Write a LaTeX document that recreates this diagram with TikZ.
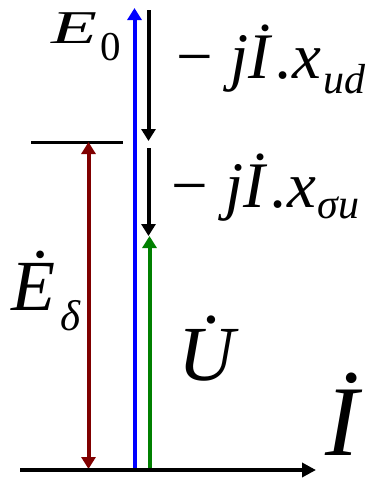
\documentclass[tikz,border=0pt]{standalone}
\usepackage{fontspec}
\setmainfont{Liberation Serif}
\usetikzlibrary{arrows.meta}
\definecolor{vblue}{RGB}{0,0,255}
\definecolor{vgreen}{RGB}{0,128,0}
\definecolor{vred}{RGB}{128,0,0}
\tikzset{
  vec/.style={line width=4pt, -{Triangle[length=12pt,width=14pt]}},
  lbl/.style={anchor=base west, inner sep=0pt, outer sep=0pt},
}
\newcommand{\fs}[1]{\fontsize{#1}{#1}\selectfont}
\begin{document}
\begin{tikzpicture}[x=1pt,y=-1pt]
\useasboundingbox (0,0) rectangle (375,480);
\clip (0,0) rectangle (375,480);
% coordinates
\coordinate (axL) at (20,470);
\coordinate (axR) at (316,470);
\coordinate (bB) at (134.5,470);
\coordinate (bT) at (134.5,8);
\coordinate (k1T) at (148.5,10);
\coordinate (k1B) at (148.5,141);
\coordinate (k2T) at (148.5,148);
\coordinate (k2B) at (148.5,236);
\coordinate (gB) at (149.5,470);
\coordinate (gT) at (149.5,236);
\coordinate (hL) at (31,142.5);
\coordinate (hR) at (123,142.5);
\coordinate (rT) at (88.5,142);
\coordinate (rB) at (88.5,469);
% lines
\draw[line width=3.5pt] (hL) -- (hR);
\draw[vec, vblue] (bB) -- (bT);
\draw[vec, black] (k1T) -- (k1B);
\draw[vec, black] (k2T) -- (k2B);
\draw[vec, vgreen] (gB) -- (gT);
\draw[line width=4pt, vred, {Triangle[length=12pt,width=14pt]}-{Triangle[length=12pt,width=14pt]}] (rT) -- (rB);
\draw[line width=3.5pt, -{Triangle[length=14pt,width=14pt]}] (axL) -- (axR);
% labels
\node[lbl] (E0) at (52,43) {\scalebox{1.6}[1]{\fs{47}\itshape E}\hspace{3pt}\raisebox{-17pt}{\fs{41}0}};
\node[lbl] (L1) at (176,78) {\fs{65}−\hspace{18pt}\itshape j\.{I}\hspace{6pt}.x\hspace{2pt}\raisebox{-15pt}{\fs{42}ud}};
\node[lbl] (L2) at (171,207) {\fs{65}−\hspace{18pt}\itshape j\.{I}\hspace{6pt}.x\hspace{1pt}\raisebox{-11pt}{\fs{42}σu}};
\node[lbl] (Ed) at (11,310) {\fs{72}\itshape\.{E}\hspace{6pt}\raisebox{-20pt}{\fs{43}δ}};
\node[lbl] (U) at (178,380) {\fs{78}\itshape\.{U}};
\node[lbl] (I) at (325,455) {\fs{100}\itshape\.{I}};
\end{tikzpicture}
\end{document}
